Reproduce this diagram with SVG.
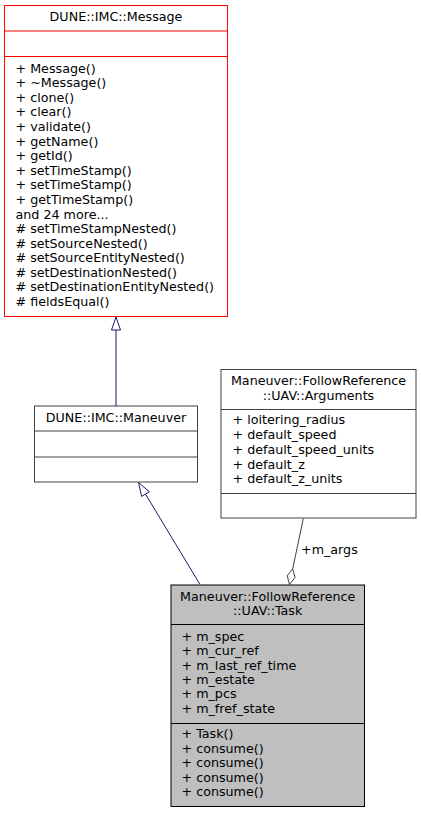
<svg xmlns="http://www.w3.org/2000/svg" width="421" height="813" viewBox="0 0 421 813">
<style>
text{font-family:"DejaVu Sans","Liberation Sans",sans-serif;font-size:12.7px;fill:#000}
.c{text-anchor:middle}
.box{fill:#fff;stroke:#404040;stroke-width:1}
.red{fill:#fff;stroke:#ff0000;stroke-width:1}
.grey{fill:#bfbfbf;stroke:#000;stroke-width:1}
.inh{fill:none;stroke:#191970;stroke-width:1}
.agg{fill:none;stroke:#404040;stroke-width:1}
</style>
<rect width="421" height="813" fill="#fff"/>
<g id="edges">
<path class="inh" d="M116,406V330"/>
<polygon class="inh" points="116,317 111.5,330 120.5,330" style="fill:#fff"/>
<path class="inh" d="M200,584.5L145.5,494.1"/>
<polygon class="inh" points="138.5,482.5 149.4,491.8 141.6,496.4" style="fill:#fff"/>
<path class="agg" d="M303.3,518.5L292.7,568.8"/>
<polygon class="agg" points="289.5,584.5 287.2,575.9 292.7,568.8 295,577.5" style="fill:#fff"/>
<text x="301" y="554">+m_args</text>
</g>
<g id="node-message">
<rect class="red" x="4.5" y="5.5" width="223" height="311"/>
<path class="red" d="M4.5,31H227.5M4.5,56.5H227.5"/>
<text class="c" x="116" y="21">DUNE::IMC::Message</text>
<text x="15.5" y="72.7">+ Message()</text>
<text x="15.5" y="87.3">+ ~Message()</text>
<text x="15.5" y="101.9">+ clone()</text>
<text x="15.5" y="116.4">+ clear()</text>
<text x="15.5" y="131">+ validate()</text>
<text x="15.5" y="145.6">+ getName()</text>
<text x="15.5" y="160.2">+ getId()</text>
<text x="15.5" y="174.8">+ setTimeStamp()</text>
<text x="15.5" y="189.4">+ setTimeStamp()</text>
<text x="15.5" y="203.9">+ getTimeStamp()</text>
<text x="15.5" y="218.5">and 24 more...</text>
<text x="15.5" y="233.1"># setTimeStampNested()</text>
<text x="15.5" y="247.7"># setSourceNested()</text>
<text x="15.5" y="262.3"># setSourceEntityNested()</text>
<text x="15.5" y="276.9"># setDestinationNested()</text>
<text x="15.5" y="291.4"># setDestinationEntityNested()</text>
<text x="15.5" y="306"># fieldsEqual()</text>
</g>
<g id="node-maneuver">
<rect class="box" x="34.5" y="406" width="163" height="76"/>
<path class="box" d="M34.5,431H197.5M34.5,457H197.5"/>
<text class="c" x="116" y="421.5">DUNE::IMC::Maneuver</text>
</g>
<g id="node-arguments">
<rect class="box" x="221" y="369.5" width="195" height="148.5"/>
<path class="box" d="M221,409.5H416M221,493.5H416"/>
<text class="c" x="318.5" y="385">Maneuver::FollowReference</text>
<text class="c" x="318.5" y="399.5">::UAV::Arguments</text>
<text x="232.5" y="424.3">+ loitering_radius</text>
<text x="232.5" y="439">+ default_speed</text>
<text x="232.5" y="453.8">+ default_speed_units</text>
<text x="232.5" y="468.5">+ default_z</text>
<text x="232.5" y="483.2">+ default_z_units</text>
</g>
<g id="node-task">
<rect class="grey" x="171" y="585" width="193.5" height="221.5"/>
<path class="grey" d="M171,624.5H364.5M171,723.5H364.5"/>
<text class="c" x="267.7" y="600.7">Maneuver::FollowReference</text>
<text class="c" x="267.7" y="615.2">::UAV::Task</text>
<text x="181.5" y="640.7">+ m_spec</text>
<text x="181.5" y="655.1">+ m_cur_ref</text>
<text x="181.5" y="669.5">+ m_last_ref_time</text>
<text x="181.5" y="683.9">+ m_estate</text>
<text x="181.5" y="698.3">+ m_pcs</text>
<text x="181.5" y="712.7">+ m_fref_state</text>
<text x="181.5" y="738.3">+ Task()</text>
<text x="181.5" y="752.7">+ consume()</text>
<text x="181.5" y="767.1">+ consume()</text>
<text x="181.5" y="781.5">+ consume()</text>
<text x="181.5" y="795.9">+ consume()</text>
</g>
</svg>
